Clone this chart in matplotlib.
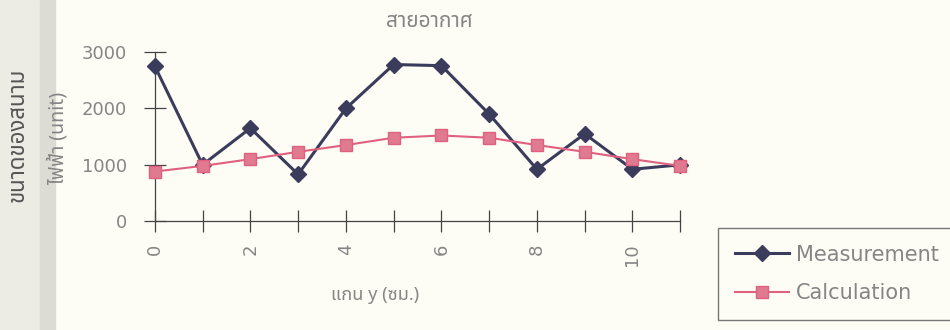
import numpy as np
import matplotlib
matplotlib.use("Agg")
import matplotlib.pyplot as plt
from matplotlib.patches import Rectangle

x = np.arange(12)
measurement = [2750, 1000, 1650, 830, 2000, 2780, 2760, 1900, 920, 1550, 920, 1000]
calculation = [880, 980, 1100, 1230, 1350, 1480, 1520, 1480, 1350, 1230, 1100, 980]

title = "สายอากาศ"
xlabel = "แกน y (ซม.)"
ylabel1 = "ขนาดของสนาม"
ylabel2 = "ไฟฟ้า (unit)"

plt.rcParams['font.family'] = ['DejaVu Sans', 'Noto Sans Thai']

gray = '#858585'
navy = '#3b3b5c'
pink = '#e0607f'

fig = plt.figure(figsize=(9.5, 3.3), dpi=100)
fig.patch.set_facecolor('#fdfdf6')
fig.patches.append(Rectangle((0, 0), 0.042, 1, transform=fig.transFigure,
                             color='#ececE4', zorder=0))
fig.patches.append(Rectangle((0.042, 0), 0.016, 1, transform=fig.transFigure,
                             color='#dcdcd4', zorder=0))

ax = fig.add_axes([0.163, 0.330, 0.553, 0.512])
ax.set_facecolor('none')
ax.plot(x, measurement, color=navy, lw=2.2, marker='D', ms=8,
        label='Measurement', clip_on=False, zorder=3)
ax.plot(x, calculation, color=pink, lw=1.5, marker='s', ms=9,
        markerfacecolor='#e07a90', markeredgecolor=pink,
        label='Calculation', clip_on=False, zorder=4)

ax.set_xlim(0, 11)
ax.set_ylim(0, 3000)
ax.set_xticks(np.arange(0, 11, 2))
ax.set_xticks(np.arange(0, 12, 1), minor=True)
ax.set_yticks([0, 1000, 2000, 3000])
for s in ['top', 'right']:
    ax.spines[s].set_visible(False)
for s in ['left', 'bottom']:
    ax.spines[s].set_color('#444444')
    ax.spines[s].set_linewidth(0.9)
ax.tick_params(which='both', direction='inout', length=16, width=0.9,
               color='#444444', labelcolor=gray, labelsize=13)
ax.tick_params(axis='x', labelrotation=90, pad=8)
ax.tick_params(axis='y', pad=12)

fig.text(0.452, 0.935, title, ha='center', va='center', color=gray,
         fontsize=15, family=['Noto Sans Thai'])
fig.text(0.395, 0.105, xlabel, ha='center', va='center', color=gray,
         fontsize=13, family=['Noto Sans Thai', 'DejaVu Sans'])
fig.text(0.019, 0.59, ylabel1, rotation=90, ha='center', va='center',
         color='#555555', fontsize=16, fontweight='bold',
         family=['Noto Sans Thai'])
fig.text(0.062, 0.58, ylabel2, rotation=90, ha='center', va='center',
         color=gray, fontsize=14, family=['Noto Sans Thai', 'DejaVu Sans'])

leg = fig.legend(loc='upper left', bbox_to_anchor=(0.756, 0.309),
                 fontsize=15, frameon=True, fancybox=False,
                 borderaxespad=0, handlelength=2.6, handletextpad=0.35,
                 labelspacing=0.9, borderpad=0.8)
leg.get_frame().set_edgecolor('#555555')
leg.get_frame().set_facecolor('#fdfdf6')
for t in leg.get_texts():
    t.set_color(gray)

fig.savefig('out.png', dpi=100, facecolor=fig.get_facecolor())
